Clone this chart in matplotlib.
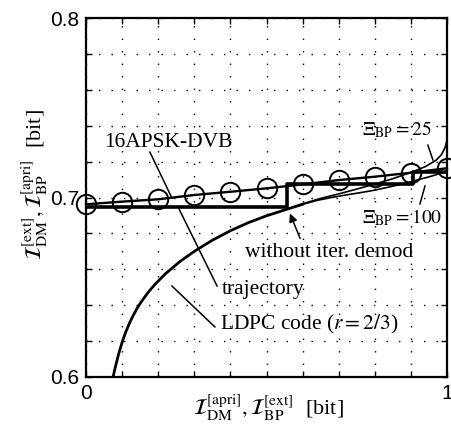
import matplotlib
matplotlib.use("Agg")
import matplotlib.pyplot as plt
import numpy as np

plt.rcParams['mathtext.fontset'] = 'stix'
SERIF = ['Liberation Serif', 'DejaVu Serif']
SANS = ['Liberation Sans', 'DejaVu Sans']

# ---- data ----
demap_x = [0.0, 0.1, 0.2, 0.3, 0.4, 0.5, 0.6, 0.7, 0.8, 0.9, 1.0]
demap_y = [0.6962, 0.6977, 0.6990, 0.7014, 0.7032, 0.7051, 0.7073, 0.7097, 0.7116, 0.7138, 0.7163]

traj_x = [0.0, 0.557, 0.557, 0.907, 0.907, 1.0]
traj_y = [0.6948, 0.6948, 0.7075, 0.7075, 0.7140, 0.7140]

ldpc_x = [0.075, 0.08, 0.09, 0.10, 0.11, 0.12, 0.13, 0.14, 0.15, 0.17, 0.19, 0.22, 0.26,
          0.30, 0.35, 0.40, 0.45, 0.50, 0.557, 0.60]
ldpc_y = [0.600, 0.6045, 0.6125, 0.6193, 0.6250, 0.6298, 0.6340, 0.6377, 0.6410, 0.6466,
          0.6514, 0.6575, 0.6643, 0.6700, 0.6762, 0.6815, 0.6860, 0.6898, 0.6935, 0.6962]

xi100_x = [0.60, 0.64, 0.68, 0.72, 0.76, 0.80, 0.85, 0.90, 0.95, 1.0]
xi100_y = [0.6962, 0.6984, 0.7000, 0.7014, 0.7027, 0.7041, 0.7063, 0.7088, 0.7115, 0.7145]

xi25_x = [0.557, 0.60, 0.65, 0.70, 0.75, 0.80, 0.85, 0.90, 0.94, 0.97, 0.985, 0.995, 1.0]
xi25_y = [0.6935, 0.6965, 0.6995, 0.7020, 0.7047, 0.7075, 0.7105, 0.7140, 0.7172, 0.7208,
          0.7240, 0.7280, 0.7320]

xticks = [0.0, 0.1, 0.2, 0.3, 0.4, 0.5, 0.6, 0.7, 0.8, 0.9, 1.0]
yticks = [0.60, 0.62, 0.64, 0.66, 0.68, 0.70, 0.72, 0.74, 0.76, 0.78, 0.80]
xlabels_shown = {0.0: '0', 1.0: '1'}
ylabels_shown = {0.60: '0.6', 0.70: '0.7', 0.80: '0.8'}

W, H = 451, 428
fig = plt.figure(figsize=(W / 100, H / 100), dpi=100)
ax = fig.add_axes([86 / W, (H - 377) / H, 361 / W, 359 / H])

ax.set_xlim(0, 1)
ax.set_ylim(0.6, 0.8)
ax.set_xticks(xticks)
ax.set_yticks(yticks)
ax.set_xticklabels([xlabels_shown.get(round(t, 2), '') for t in xticks], fontfamily=SANS, fontsize=15)
ax.set_yticklabels([ylabels_shown.get(round(t, 2), '') for t in yticks], fontfamily=SANS, fontsize=15)
ax.tick_params(direction='in', length=4, width=1, top=True, right=True, pad=5)
ax.grid(True, color='black', linestyle=(0, (1, 8)), linewidth=1.0)
for s in ax.spines.values():
    s.set_linewidth(1.6)

# curves
ax.plot(ldpc_x, ldpc_y, color='black', lw=2.0)
ax.plot(xi100_x, xi100_y, color='black', lw=1.2)
ax.plot(xi25_x, xi25_y, color='black', lw=1.2)
ax.plot(traj_x, traj_y, color='black', lw=2.6)
ax.plot(demap_x, demap_y, color='black', lw=1.7, marker='o', markersize=14,
        markerfacecolor='none', markeredgewidth=1.4, clip_on=False)

fs = 15.5
# annotations
ax.text(0.227, 0.7309, '16APSK-DVB', fontfamily=SERIF, fontsize=fs, ha='center', va='center')
ax.plot([0.177, 0.238], [0.7253, 0.6997], color='black', lw=1.1)

ax.text(0.377, 0.6485, 'trajectory', fontfamily=SERIF, fontsize=fs, ha='left', va='center')
ax.plot([0.363, 0.255], [0.6507, 0.6947], color='black', lw=1.1)

ax.text(0.371, 0.629, r'LDPC code ($r=2/3$)', fontfamily=SERIF, fontsize=fs, ha='left', va='center')
ax.plot([0.357, 0.238], [0.6279, 0.6507], color='black', lw=1.1)

ax.text(0.440, 0.6691, 'without iter. demod', fontfamily=SERIF, fontsize=fs, ha='left', va='center')
ax.annotate('', xy=(0.562, 0.6925), xytext=(0.596, 0.6758),
            arrowprops=dict(arrowstyle='-|>', color='black', lw=1.1, mutation_scale=12))

ax.text(0.765, 0.7376, r'$\Xi_{\mathrm{BP}}=25$', fontsize=14, ha='left', va='center')
ax.plot([0.947, 0.961], [0.7292, 0.7209], color='black', lw=1.1)

ax.text(0.765, 0.6886, r'$\Xi_{\mathrm{BP}}=100$', fontsize=14, ha='left', va='center')
ax.plot([0.925, 0.939], [0.6964, 0.7064], color='black', lw=1.1)

# axis labels
fig.text(268 / W, 1 - 408 / H,
         r'$\mathcal{I}_{\mathrm{DM}}^{[\mathrm{apri}]}, \mathcal{I}_{\mathrm{BP}}^{[\mathrm{ext}]}$  [bit]',
         fontfamily=SERIF, fontsize=16, ha='center', va='center')
fig.text(35 / W, 1 - 185 / H,
         r'$\mathcal{I}_{\mathrm{DM}}^{[\mathrm{ext}]}, \mathcal{I}_{\mathrm{BP}}^{[\mathrm{apri}]}$  [bit]',
         fontfamily=SERIF, fontsize=16, ha='center', va='center', rotation=90)

fig.savefig('out.png', dpi=100)
